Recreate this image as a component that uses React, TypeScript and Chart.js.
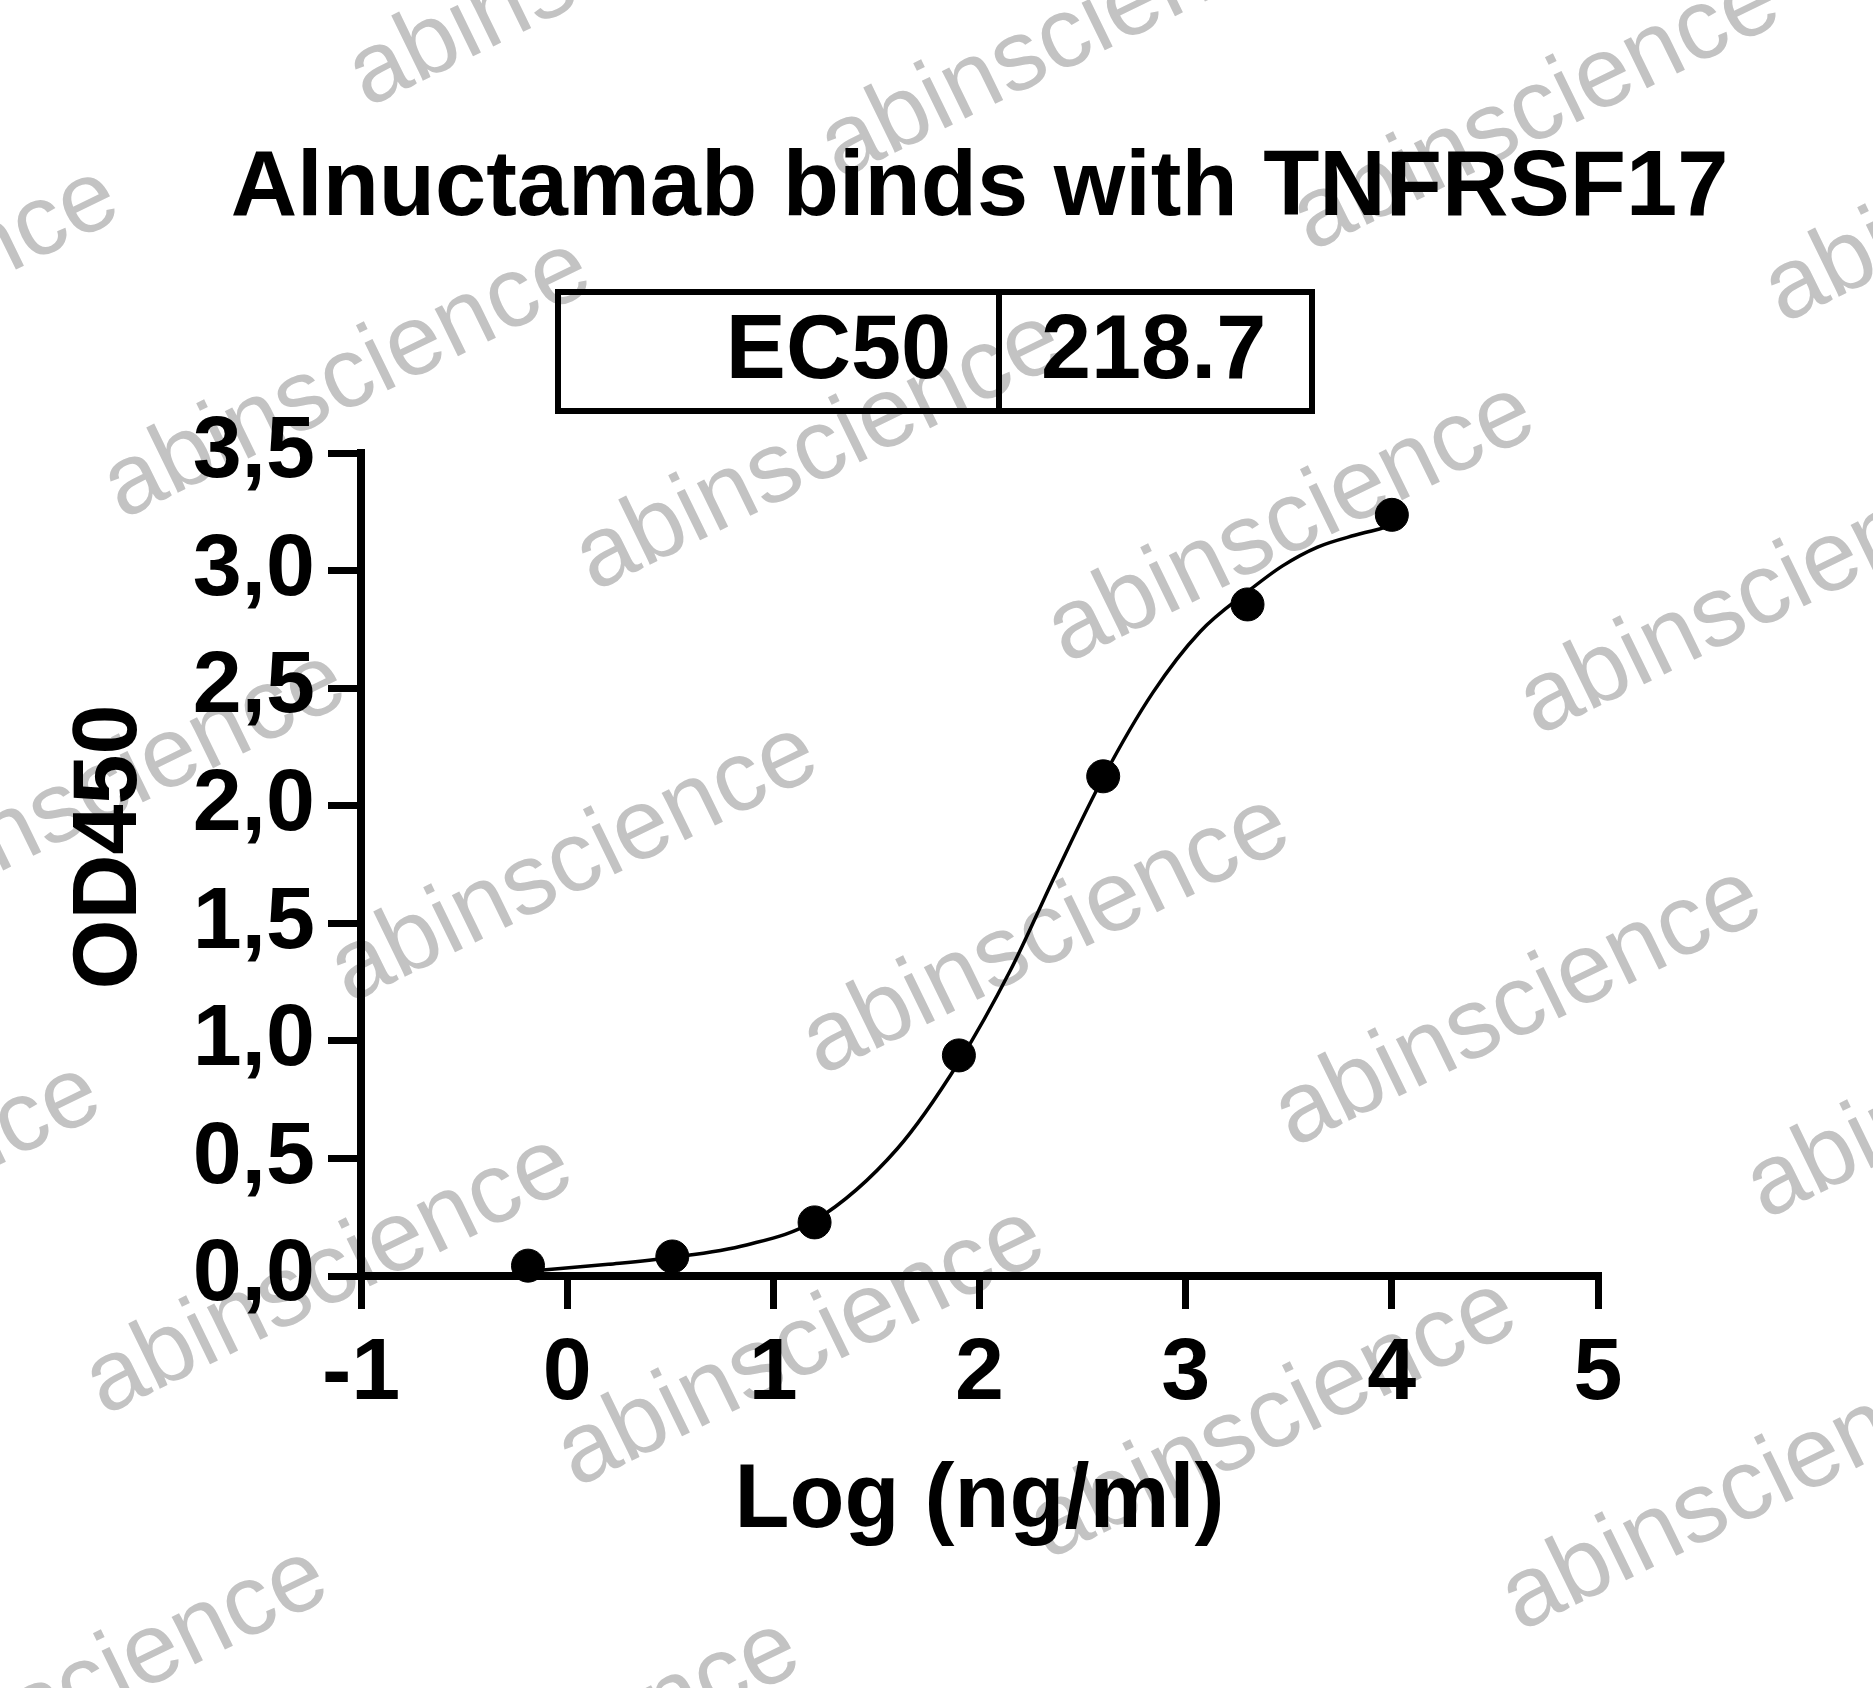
import React, { useEffect, useRef } from "react";
import { Chart, registerables } from "chart.js";

Chart.register(...registerables);

// ---- text ----
const titleText = "Alnuctamab binds with TNFRSF17";
const xTitleText = "Log (ng/ml)";
const yTitleText = "OD450";
const ec50Label = "EC50";
const ec50Value = "218.7";
const watermarkText = "abinscience";

// ---- data ----
const logConc = [-0.19, 0.51, 1.2, 1.9, 2.6, 3.3, 4.0];
const od450 = [0.044, 0.083, 0.228, 0.938, 2.125, 2.856, 3.237];

// fitted curve
const fitLogConc = [-0.19, 0.2, 0.5, 0.87, 1.2, 1.6, 1.9, 2.15, 2.37, 2.6, 2.84, 3.07, 3.3, 3.47, 3.64, 3.82, 4.0];
const fitOd450 = [0.02, 0.05, 0.078, 0.132, 0.235, 0.54, 0.91, 1.3, 1.71, 2.12, 2.48, 2.74, 2.91, 3.02, 3.1, 3.15, 3.19];

// axis ranges / ticks
const xMin = -1;
const xMax = 5;
const xStep = 1;
const yMin = 0;
const yMax = 3.5;
const yStep = 0.5;

const FONT = '"Liberation Sans", Arial, Helvetica, sans-serif';

const W = 1873;
const H = 1688;

const decorPlugin = {
  id: "decor",
  beforeDraw(chart: any) {
    const ctx = chart.ctx;
    ctx.save();
    ctx.fillStyle = "#ffffff";
    ctx.fillRect(0, 0, chart.width, chart.height);
    // watermark tiling
    ctx.font = `100px ${FONT}`;
    ctx.fillStyle = "#c3c3c3";
    ctx.textAlign = "left";
    ctx.textBaseline = "alphabetic";
    const ang = (-26 * Math.PI) / 180;
    for (let i = -5; i <= 6; i++) {
      for (let j = -4; j <= 4; j++) {
        const x = 349 + i * 472 + j * 227;
        const y = 1004 + i * 72 + j * 484;
        if (x < -700 || x > W + 50 || y < -50 || y > H + 300) continue;
        ctx.save();
        ctx.translate(x, y);
        ctx.rotate(ang);
        ctx.fillText(watermarkText, 0, 0);
        ctx.restore();
      }
    }
    ctx.restore();
  },
  afterDraw(chart: any) {
    const ctx = chart.ctx;
    const area = chart.chartArea;
    ctx.save();
    // chart title
    ctx.fillStyle = "#000";
    ctx.font = `bold 92px ${FONT}`;
    ctx.textAlign = "center";
    ctx.textBaseline = "alphabetic";
    ctx.fillText(titleText, (area.left + area.right) / 2, 215);
    // EC50 table box
    ctx.strokeStyle = "#000";
    ctx.lineWidth = 6;
    ctx.strokeRect(558, 292, 754, 119);
    ctx.beginPath();
    ctx.moveTo(999, 292);
    ctx.lineTo(999, 411);
    ctx.stroke();
    ctx.font = `bold 90px ${FONT}`;
    ctx.textAlign = "right";
    ctx.fillText(ec50Label, 951, 378);
    ctx.textAlign = "left";
    ctx.fillText(ec50Value, 1041, 378);
    // y axis title
    ctx.translate(111, 847);
    ctx.rotate(-Math.PI / 2);
    ctx.textAlign = "center";
    ctx.textBaseline = "middle";
    ctx.font = `bold 90px ${FONT}`;
    ctx.fillText(yTitleText, 0, 0);
    ctx.restore();
  },
};

export default function App() {
  const ref = useRef<HTMLCanvasElement | null>(null);

  useEffect(() => {
    if (!ref.current) return;
    const chart = new Chart(ref.current, {
      type: "scatter",
      data: {
        datasets: [
          {
            type: "line",
            label: "fit",
            data: fitLogConc.map((x, i) => ({ x, y: fitOd450[i] })),
            borderColor: "#000",
            borderWidth: 3.5,
            pointRadius: 0,
            fill: false,
            cubicInterpolationMode: "monotone",
            clip: false,
            order: 2,
          } as any,
          {
            type: "scatter",
            label: "data",
            data: logConc.map((x, i) => ({ x, y: od450[i] })),
            backgroundColor: "#000",
            borderColor: "#000",
            pointRadius: 16.5,
            pointHoverRadius: 16.5,
            clip: false,
            order: 1,
          } as any,
        ],
      },
      options: {
        animation: false,
        responsive: false,
        devicePixelRatio: 1,
        events: [],
        layout: { padding: { left: 0, right: 275, top: 453, bottom: 0 } },
        plugins: {
          legend: { display: false },
          tooltip: { enabled: false },
          title: { display: false },
        },
        scales: {
          x: {
            type: "linear",
            min: xMin,
            max: xMax,
            afterFit: (s: any) => {
              s.height = 412;
            },
            ticks: {
              stepSize: xStep,
              color: "#000",
              font: { family: FONT, size: 88, weight: "bold" },
              padding: 13,
              maxRotation: 0,
              autoSkip: false,
              callback: (v: any) => String(v),
            },
            grid: {
              display: true,
              drawOnChartArea: false,
              drawTicks: true,
              tickLength: 33,
              lineWidth: 7,
              color: "#000",
            },
            border: { display: true, color: "#000", width: 8 },
            title: {
              display: true,
              text: xTitleText,
              color: "#000",
              font: { family: FONT, size: 90, weight: "bold", lineHeight: 1.2 },
              padding: { top: 0, bottom: 132 },
            },
          },
          y: {
            type: "linear",
            min: yMin,
            max: yMax,
            afterFit: (s: any) => {
              s.width = 361;
            },
            ticks: {
              stepSize: yStep,
              color: "#000",
              font: { family: FONT, size: 88, weight: "bold" },
              padding: 13,
              autoSkip: false,
              callback: (v: any) => Number(v).toFixed(1).replace(".", ","),
            },
            grid: {
              display: true,
              drawOnChartArea: false,
              drawTicks: true,
              tickLength: 33,
              lineWidth: 7,
              color: "#000",
            },
            border: { display: true, color: "#000", width: 8 },
          },
        },
      },
      plugins: [decorPlugin],
    } as any);
    return () => chart.destroy();
  }, []);

  return (
    <div style={{ position: "absolute", left: 0, top: 0, width: W, height: H }}>
      <canvas ref={ref} width={W} height={H} style={{ width: W, height: H, display: "block" }} />
    </div>
  );
}
